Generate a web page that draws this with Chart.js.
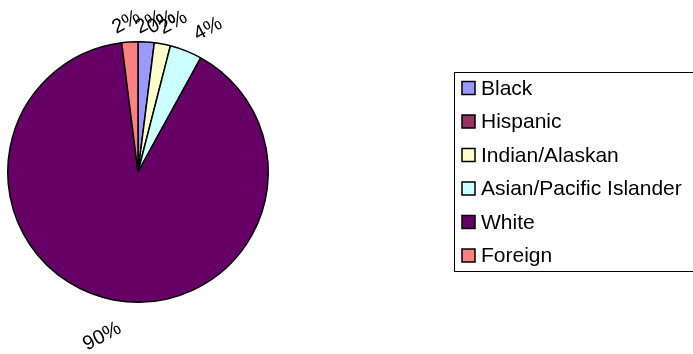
<!DOCTYPE html>
<html>
<head>
<meta charset="utf-8">
<script src="https://cdn.jsdelivr.net/npm/chart.js@4/dist/chart.umd.min.js"></script>
<style>
  html, body { margin: 0; padding: 0; background: #fff; }
  #chart { display: block; }
</style>
</head>
<body>
<canvas id="chart" width="693" height="354"></canvas>
<script>
// dados do gráfico
const categories = ['Black', 'Hispanic', 'Indian/Alaskan', 'Asian/Pacific Islander', 'White', 'Foreign'];
const shares     = [2, 0, 2, 4, 90, 2];
const colors     = ['#9999FF', '#993366', '#FFFFCC', '#CCFFFF', '#660066', '#FF8080'];

const FONT = "'Liberation Sans', Arial, sans-serif";

// rótulos de porcentagem girados (estilo Excel)
const pctLabels = {
  id: 'pctLabels',
  afterDatasetsDraw(chart) {
    const ctx = chart.ctx;
    const meta = chart.getDatasetMeta(0);
    const size = 20;
    ctx.save();
    ctx.font = size + 'px ' + FONT;
    ctx.fillStyle = '#000';
    ctx.textAlign = 'center';
    ctx.textBaseline = 'middle';
    const rot = -28 * Math.PI / 180;
    const c = Math.cos(rot), s = Math.abs(Math.sin(rot));
    meta.data.forEach((arc, i) => {
      const mid = (arc.startAngle + arc.endAngle) / 2;
      const dx = Math.cos(mid), dy = Math.sin(mid);
      const text = shares[i] + '%';
      const w = ctx.measureText(text).width;
      const hw = (w * c + size * s) / 2;
      const hh = (w * s + size * c) / 2;
      const d = arc.outerRadius + 9 + hw * Math.abs(dx) + hh * Math.abs(dy);
      ctx.save();
      ctx.translate(arc.x + dx * d + dx * 30, arc.y + dy * d + 6);
      ctx.rotate(rot);
      ctx.fillText(text, 0, 0);
      ctx.restore();
    });
    ctx.restore();
  }
};

// legenda desenhada à mão, com moldura
const boxLegend = {
  id: 'boxLegend',
  afterDraw(chart) {
    const ctx = chart.ctx;
    ctx.save();
    ctx.strokeStyle = '#000';
    ctx.lineWidth = 1;
    ctx.strokeRect(454.5, 72.5, 260, 199);
    ctx.font = '21px ' + FONT;
    ctx.textBaseline = 'middle';
    categories.forEach((name, i) => {
      const y = 88 + i * 33.5;
      ctx.fillStyle = colors[i];
      ctx.fillRect(462, y - 6.5, 13, 13);
      ctx.lineWidth = 1.5;
      ctx.strokeRect(462, y - 6.5, 13, 13);
      ctx.fillStyle = '#000';
      ctx.fillText(name, 481, y + 1);
    });
    ctx.restore();
  }
};

new Chart(document.getElementById('chart'), {
  type: 'pie',
  data: {
    labels: categories,
    datasets: [{
      data: shares,
      backgroundColor: colors,
      borderColor: '#000',
      borderWidth: 1.5
    }]
  },
  options: {
    responsive: false,
    animation: false,
    layout: { padding: { left: 7, right: 424, top: 41, bottom: 51 } },
    plugins: {
      legend: { display: false },
      tooltip: { enabled: false }
    }
  },
  plugins: [pctLabels, boxLegend]
});
</script>
</body>
</html>
